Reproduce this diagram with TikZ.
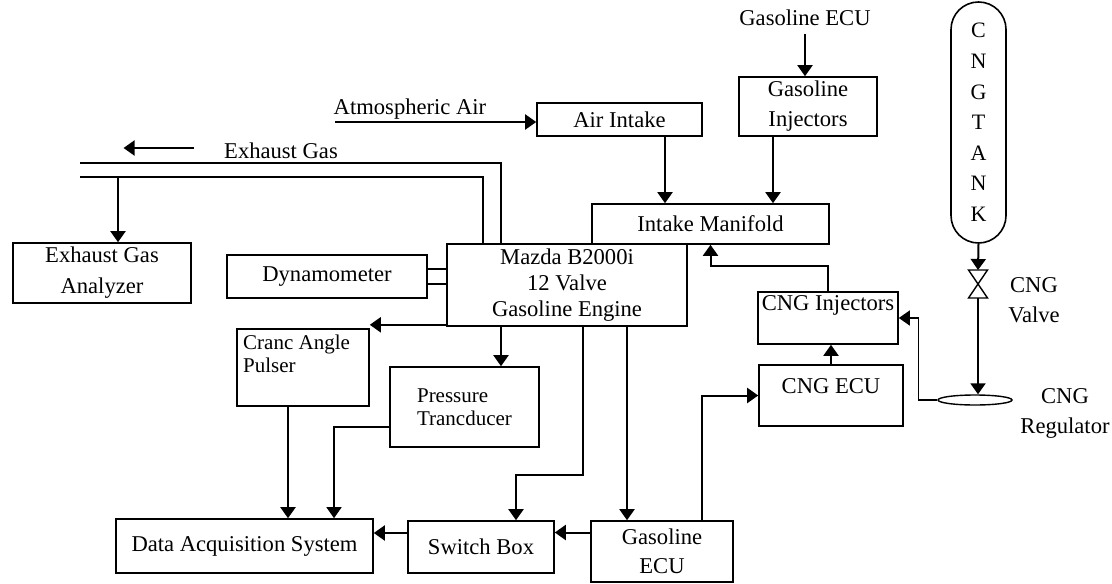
\documentclass[tikz,border=0pt]{standalone}
\usepackage{fontspec}
\setmainfont{Liberation Serif}
\usetikzlibrary{arrows.meta,shapes.geometric}

\begin{document}
\begin{tikzpicture}[x=0.5pt,y=-0.5pt,line width=1pt,
  font=\fontsize{11.3pt}{13pt}\selectfont,
  blk/.style={draw,align=center,inner sep=2pt,line width=0.8pt},
  arr/.style={-{Triangle[length=5.5pt,width=7.5pt]}},
  small/.style={font=\fontsize{10.5pt}{11.5pt}\selectfont}]
\useasboundingbox (0,0) rectangle (1112,583);
% boxes
\node[blk,minimum width=89pt,minimum height=30pt] (ega) at (102,273) {Exhaust Gas\\[2.5pt]Analyzer};
\node[blk,minimum width=100pt,minimum height=21.5pt] (dyno) at (327,276.5) {Dynamometer};
\node[blk,minimum width=120pt,minimum height=41pt] (engine) at (567,285) {Mazda B2000i\\12 Valve\\Gasoline Engine};
\node[blk,minimum width=118.5pt,minimum height=20pt] (manifold) at (710.5,224) {Intake Manifold};
\node[blk,minimum width=82.5pt,minimum height=16.5pt] (airin) at (619.5,119.5) {Air Intake};
\node[blk,minimum width=69pt,minimum height=29.5pt] (ginj) at (808,106.5) {Gasoline\\[2pt]Injectors};
\node[blk,minimum width=70pt,minimum height=26pt,label={[anchor=north,inner sep=1.5pt]north:CNG Injectors}] (cnginj) at (828,318) {};
\node[blk,minimum width=72pt,minimum height=30.5pt,label={[anchor=north,inner sep=6.5pt]north:CNG ECU}] (cngecu) at (831,395.5) {};
\node[blk,minimum width=66pt,minimum height=38.5pt,label={[anchor=north west,small,align=left,inner sep=3pt]north west:Cranc Angle\\Pulser}] (cranc) at (303,367.5) {};
\node[blk,small,align=left,minimum width=74.5pt,minimum height=40pt] (press) at (464.5,407) {Pressure\\Trancducer};
\node[blk,minimum width=128.5pt,minimum height=27pt] (daq) at (244.5,546) {Data Acquisition System};
\node[blk,minimum width=73pt,minimum height=26pt] (swbox) at (481,547) {Switch Box};
\node[blk,minimum width=71pt,minimum height=30.5pt] (gecu) at (662,551.5) {Gasoline\\[1.5pt]ECU};
\node[draw,line width=0.8pt,rounded corners=13.7pt,minimum width=27.5pt,minimum height=120.5pt,inner sep=0pt,align=center,
  font=\fontsize{11pt}{15.3pt}\selectfont] (tank) at (978.5,122.5) {C\\N\\G\\T\\A\\N\\K};
\node[draw,ellipse,line width=0.7pt,minimum width=37pt,minimum height=5pt,inner sep=0pt] (reg) at (975,400) {};
% texts
\node (atm) at (410,109) {Atmospheric Air};
\node (exgas) at (281,151) {Exhaust Gas};
\node (gtop) at (805,18) {Gasoline ECU};
\node[align=center,font=\fontsize{11.3pt}{15pt}\selectfont] (vlbl) at (1034,300) {CNG\\Valve};
\node[align=center,font=\fontsize{11.3pt}{15pt}\selectfont] (rlbl) at (1065,413) {CNG\\Regulator};
% valve
\coordinate (vtop) at (978,270); \coordinate (vmid) at (978,284); \coordinate (vbot) at (978,298);
\draw[line width=0.7pt] (vtop) ++(-9.5,0) -- ++(19,0) -- (vmid) -- cycle;
\draw[line width=0.7pt] (vbot) ++(-9.5,0) -- ++(19,0) -- (vmid) -- cycle;
% free ends
\coordinate (a0) at (335,122); \coordinate (ex1) at (80,163); \coordinate (ex2) at (80,177);
% connectors
\draw[arr] (a0) -- (a0 -| airin.west);
\draw[arr] (gtop.south) -- (gtop.south |- ginj.north);
\draw[arr] ([xshift=22.75pt]airin.south) -- ([xshift=22.75pt]airin.south |- manifold.north);
\draw[arr] ([xshift=-17.5pt]ginj.south) -- ([xshift=-17.5pt]ginj.south |- manifold.north);
\draw[arr] (cnginj.north) -- ++(0,-25) -| (manifold.south);
\draw[arr] (cngecu.north) -- (cngecu.north |- cnginj.south);
\draw[arr] ([xshift=20pt]gecu.north) |- (cngecu.west);
\draw[arr] ([xshift=30pt]engine.south) -- ([xshift=30pt]engine.south |- gecu.north);
\draw[arr] ([xshift=8pt]engine.south) -- ++(0,148) -| ([xshift=17.5pt]swbox.north);
\draw[arr] ([xshift=-33pt]engine.south) -- ([xshift=-33pt]engine.south |- press.north);
\draw[arr] ([yshift=1pt]engine.south west) -- ([yshift=1pt]engine.south west -| cranc.east);
\draw[arr] ([xshift=-7.5pt]cranc.south) -- ([xshift=-7.5pt]cranc.south |- daq.north);
\draw[arr,line width=0.7pt] ([yshift=-10pt]press.west) -| ([xshift=44.75pt]daq.north);
\draw[arr] ([yshift=9.5pt]gecu.west) -- ([yshift=9.5pt]gecu.west -| swbox.east);
\draw[arr] ([yshift=7pt]swbox.west) -- ([yshift=7pt]swbox.west -| daq.east);
% exhaust pipe
\draw[line width=0.7pt] ([xshift=-33pt]engine.north) |- (ex1);
\draw[line width=0.7pt] ([xshift=-42pt]engine.north) |- (ex2);
\draw[arr] ([xshift=8pt]ega.north |- ex2) -- ([xshift=8pt]ega.north);
\draw[arr] ([xshift=-11.5pt,yshift=1.5pt]exgas.west) -- ++(-70,0);
\foreach \s in {3.75pt,-3.75pt}{\draw[line width=0.7pt] ([yshift=\s]dyno.east) -- ([yshift=\s]dyno.east -| engine.west);}
% CNG line
\draw[arr] (tank.south) -- (vtop);
\draw[arr] (vbot) -- (vbot |- reg.north);
\draw[arr,line width=0.7pt] (reg.west) -- ++(-19,0) |- (cnginj.east);
\end{tikzpicture}
\end{document}
